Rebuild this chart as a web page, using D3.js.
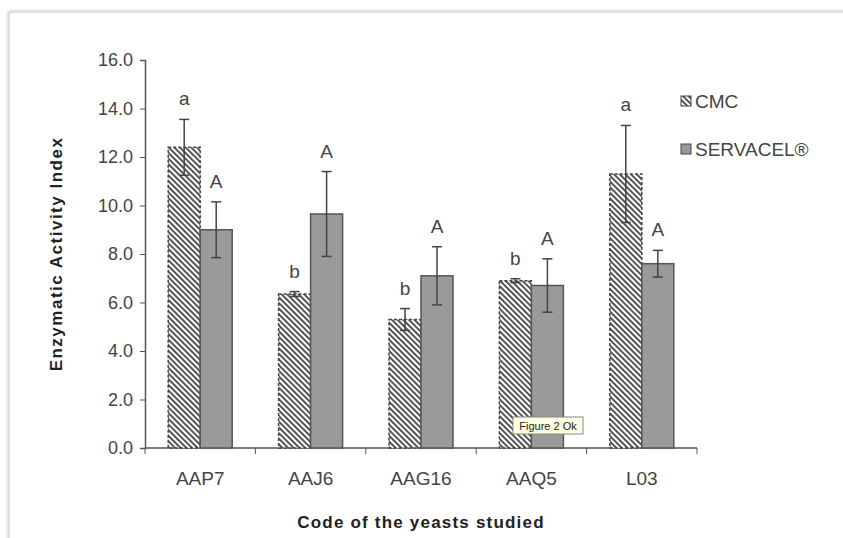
<!DOCTYPE html>
<html>
<head>
<meta charset="utf-8">
<script src="https://cdn.jsdelivr.net/npm/d3@7"></script>
<style>
  body { margin: 0; background: #fff; }
  text { font-family: "Liberation Sans", Arial, sans-serif; }
</style>
</head>
<body>
<div id="chart"></div>
<script>
// data
const codes = ["AAP7", "AAJ6", "AAG16", "AAQ5", "L03"];
const series = ["CMC", "SERVACEL®"];
const cmcValues = [12.4, 6.35, 5.3, 6.9, 11.3];
const cmcErrors = [1.15, 0.1, 0.45, 0.08, 2.0];
const servValues = [9.0, 9.65, 7.1, 6.7, 7.6];
const servErrors = [1.15, 1.75, 1.2, 1.1, 0.55];
const cmcLetters = ["a", "b", "b", "b", "a"];
const servLetters = ["A", "A", "A", "A", "A"];
const yTicks = [0, 2, 4, 6, 8, 10, 12, 14, 16];

const width = 843;
const height = 538;
const margin = {left: 145, right: 146, top: 60, bottom: 90};

const svg = d3.select("#chart")
  .append("svg")
  .attr("width", width)
  .attr("height", height);

// frame with a soft shadow, like the pasted picture
const defs = svg.append("defs");
const shadow = defs.append("filter").attr("id", "shadow")
  .attr("x", "-5%").attr("y", "-5%").attr("width", "110%").attr("height", "110%");
shadow.append("feGaussianBlur").attr("stdDeviation", 1.5);

svg.append("rect")
  .attr("x", 9).attr("y", 12)
  .attr("width", width).attr("height", height)
  .attr("fill", "none")
  .attr("stroke", "#bbb")
  .attr("stroke-width", 2)
  .attr("filter", "url(#shadow)");
svg.append("rect")
  .attr("x", 10).attr("y", 13)
  .attr("width", width).attr("height", height)
  .attr("fill", "#fff");

// hatch for CMC (lines going down to the right)
const hatch = defs.append("pattern")
  .attr("id", "hatch")
  .attr("patternUnits", "userSpaceOnUse")
  .attr("width", 4).attr("height", 4)
  .attr("patternTransform", "rotate(45)");
hatch.append("rect").attr("width", 4).attr("height", 4).attr("fill", "#fff");
hatch.append("rect").attr("width", 4).attr("height", 2).attr("fill", "#555");

const x0 = d3.scaleBand()
  .domain(codes)
  .range([margin.left, width - margin.right]);

const x1 = d3.scaleBand()
  .domain(series)
  .range([0, x0.bandwidth()])
  .paddingOuter(0.725);

const y = d3.scaleLinear()
  .domain([0, 16])
  .range([height - margin.bottom, margin.top]);

// axes
const yAxis = svg.append("g")
  .attr("transform", `translate(${margin.left},0)`)
  .call(d3.axisLeft(y).tickValues(yTicks).tickFormat(d3.format(".1f")).tickSize(5).tickPadding(7));
yAxis.select(".domain").attr("stroke", "#555").attr("stroke-width", 1.5);
yAxis.selectAll(".tick line").attr("stroke", "#555");
yAxis.selectAll("text")
  .style("font-size", "18px")
  .attr("fill", "#444");

const xAxis = svg.append("g")
  .attr("transform", `translate(0,${y(0)})`);
xAxis.append("line")
  .attr("x1", margin.left).attr("x2", width - margin.right)
  .attr("stroke", "#555").attr("stroke-width", 1.5);
const bounds = codes.map(c => x0(c)).concat([width - margin.right]);
xAxis.selectAll(".xt")
  .data(bounds)
  .join("line")
  .attr("x1", d => d).attr("x2", d => d)
  .attr("y1", 0).attr("y2", 6)
  .attr("stroke", "#555");
xAxis.selectAll(".xl")
  .data(codes)
  .join("text")
  .attr("x", d => x0(d) + x0.bandwidth() / 2)
  .attr("y", 37)
  .attr("text-anchor", "middle")
  .style("font-size", "19px")
  .attr("fill", "#444")
  .text(d => d);

// bars
const rows = codes.map((c, i) => [
  {code: c, s: series[0], v: cmcValues[i], e: cmcErrors[i], l: cmcLetters[i]},
  {code: c, s: series[1], v: servValues[i], e: servErrors[i], l: servLetters[i]}
]).flat();

svg.append("g").selectAll("rect")
  .data(rows)
  .join("rect")
  .attr("x", d => x0(d.code) + x1(d.s))
  .attr("y", d => y(d.v))
  .attr("width", x1.bandwidth())
  .attr("height", d => y(0) - y(d.v))
  .attr("fill", d => d.s === "CMC" ? "url(#hatch)" : "#9a9a9a")
  .attr("stroke", d => d.s === "CMC" ? "#444" : "#555")
  .attr("stroke-width", 1.5)
  .attr("stroke-dasharray", d => d.s === "CMC" ? "3,2" : null);

// error bars
const err = svg.append("g").attr("stroke", "#444").attr("stroke-width", 1.5);
rows.forEach(d => {
  const cx = x0(d.code) + x1(d.s) + x1.bandwidth() / 2;
  err.append("line").attr("x1", cx).attr("x2", cx).attr("y1", y(d.v + d.e)).attr("y2", y(d.v - d.e));
  err.append("line").attr("x1", cx - 5).attr("x2", cx + 5).attr("y1", y(d.v + d.e)).attr("y2", y(d.v + d.e));
  err.append("line").attr("x1", cx - 5).attr("x2", cx + 5).attr("y1", y(d.v - d.e)).attr("y2", y(d.v - d.e));
});

// significance letters
svg.append("g").selectAll("text")
  .data(rows)
  .join("text")
  .attr("x", d => x0(d.code) + x1(d.s) + x1.bandwidth() / 2)
  .attr("y", d => y(d.v + d.e) - 14)
  .attr("text-anchor", "middle")
  .style("font-size", "19px")
  .attr("fill", "#444")
  .text(d => d.l);

// legend
const legend = svg.append("g");
series.forEach((s, i) => {
  const ly = 101 + i * 48;
  legend.append("rect")
    .attr("x", 681).attr("y", ly - 5)
    .attr("width", 10).attr("height", 10)
    .attr("fill", i === 0 ? "url(#hatch)" : "#9a9a9a")
    .attr("stroke", "#444");
  legend.append("text")
    .attr("x", 695).attr("y", ly + 7)
    .style("font-size", "19px")
    .attr("fill", "#444")
    .text(s);
});

// axis titles
svg.append("text")
  .attr("x", (margin.left + width - margin.right) / 2)
  .attr("y", 528)
  .attr("text-anchor", "middle")
  .style("font-size", "17px")
  .style("font-weight", "bold")
  .attr("fill", "#222")
  .style("letter-spacing", "1.2px")
  .text("Code of the yeasts studied");

svg.append("text")
  .attr("transform", `translate(62,${(margin.top + y(0)) / 2}) rotate(-90)`)
  .attr("text-anchor", "middle")
  .style("font-size", "17px")
  .style("font-weight", "bold")
  .attr("fill", "#222")
  .style("letter-spacing", "1.5px")
  .text("Enzymatic Activity Index");

// the little tooltip left in the picture
const tip = svg.append("g").attr("transform", "translate(513,417)");
tip.append("rect")
  .attr("width", 70).attr("height", 17)
  .attr("fill", "#ffffe1")
  .attr("stroke", "#888");
tip.append("text")
  .attr("x", 35).attr("y", 12.5)
  .attr("text-anchor", "middle")
  .style("font-size", "11px")
  .attr("fill", "#222")
  .text("Figure 2 Ok");
</script>
</body>
</html>
